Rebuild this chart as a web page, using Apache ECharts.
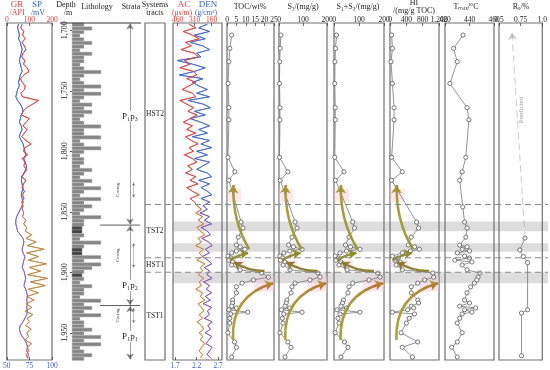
<!DOCTYPE html>
<html><head><meta charset="utf-8">
<script src="https://cdn.jsdelivr.net/npm/echarts@6/dist/echarts.min.js"></script>
<style>html,body{margin:0;padding:0;background:#fff}#c{width:550px;height:370px}</style>
</head><body><div id="c"></div>
<script>
// ---------------- DATA ----------------
const depthTicks = [1700, 1750, 1800, 1850, 1900, 1950];
// well logs sampled every 3 m from 1695 m
const logTop = 1695, logStep = 3;
const grAPI = [68,62,75,70,82,68,78,85,72,66,80,74,90,98,76,60,68,82,78,62,70,140,115,88,72,65,100,85,72,90,78,66,85,108,80,74,92,68,82,75,88,78,64,85,74,68,78,70,76,66,72,68,75,70,85,75,88,82,110,85,130,90,165,88,140,95,175,100,150,92,180,105,170,95,140,88,120,85,110,82,115,90,100,84,108,88,96,82,110,90,98,86,92];
const spMV = [63,62,63,64,63,65,66,67,66,65,64,65,66,67,65,64,63,64,62,61,60,62,65,67,68,66,65,64,66,67,65,64,66,68,69,70,71,69,70,72,71,69,67,66,67,68,67,66,67,68,67,65,63,61,60,60,61,62,65,68,69,68,67,68,70,69,68,67,69,70,71,70,69,71,72,73,72,73,72,73,72,70,68,65,64,65,67,70,72,73,72,74,73];
const acUs = [360,300,410,330,270,390,340,430,310,280,400,350,440,320,290,380,300,360,420,330,300,440,380,320,370,290,350,410,330,380,300,390,340,280,360,320,400,330,290,370,330,390,300,350,280,380,330,270,350,310,290,250,300,240,280,230,290,260,220,280,250,300,230,270,240,290,220,260,240,280,230,270,250,300,240,260,220,280,250,230,270,240,290,250,230,270,240,260,220,250,270,240,260];
const denG = [2.45,2.25,2.5,2.15,2.4,2.05,2.35,2.5,2.2,2.3,1.75,2.1,2.4,2.15,1.8,2.35,2.1,2.25,2.45,2.2,2.5,2.0,2.35,2.52,2.15,2.4,2.05,2.3,2.5,2.25,2.45,2.1,2.5,2.3,2.55,2.2,2.45,2.15,2.5,2.35,2.2,2.45,2.55,2.25,2.5,2.3,2.45,2.55,2.3,2.5,2.35,2.45,2.28,2.5,2.38,2.55,2.3,2.45,2.52,2.32,2.48,2.56,2.4,2.5,2.33,2.46,2.55,2.38,2.5,2.44,2.56,2.36,2.5,2.42,2.55,2.4,2.52,2.35,2.55,2.45,2.5,2.38,2.56,2.46,2.52,2.4,2.55,2.48,2.42,2.56,2.5,2.44,2.54];
// lithology: 3 m beds from 1694 m, class 0..3 = grain size, 4 = tuffaceous dark bed
const bedTop = 1694, bedStep = 3;
const bedClass = [1,2,1,0,1,2,1,0,2,1,1,0,1,3,1,0,1,3,1,3,1,0,2,1,2,1,0,1,3,1,1,3,0,1,3,1,0,1,1,0,2,1,0,2,1,3,1,0,3,1,2,1,0,3,1,1,4,4,1,0,3,1,4,4,3,1,3,2,1,4,1,0,2,1,1,0,3,1,2,1,3,0,1,1,2,1,3,1,3,0,1,2,1];
// geochemistry samples
const sampleDepth = [1704,1715,1726,1744,1764,1774,1805,1817,1824,1858.5,1863.4,1871,1877.5,1879,1881,1882.5,1884,1886.6,1888.2,1890,1891.5,1894,1898,1900.6,1904,1906.4,1909,1912,1917,1923,1925.4,1928,1929.5,1931,1933,1934.5,1938,1942,1950,1957.6,1962,1970];
const toc = [2.5,1.5,1.0,0.6,1.0,1.0,0.5,4.2,1.0,7.5,8.5,6.0,5.0,7.0,9.5,5.0,2.5,0.5,2.0,1.0,3.0,2.5,7.0,18.5,22.0,14.0,8.0,5.0,5.0,3.0,3.0,2.5,5.0,1.0,11.0,2.0,1.5,1.5,0.5,4.0,5.0,2.5];
const s2 = [8,5,3,2,4,4,2,37,5,67,75,54,40,60,96,45,20,4,15,6,25,17,46,162,171,129,67,54,50,33,30,25,45,10,96,20,14,17,4,37,50,25];
const s1s2 = [10,6,4,3,5,5,3,40,6,75,82,60,46,66,104,50,24,5,18,8,28,20,52,175,184,140,75,60,56,38,34,28,50,12,104,24,16,20,5,42,56,28];
const hi = [40,60,25,60,100,100,40,300,40,650,700,520,450,600,720,500,300,60,200,120,250,150,300,1050,1070,850,680,520,520,680,700,520,580,430,60,600,470,400,270,680,300,550];
const tmaxDepth = [1704,1715,1726,1744,1764,1774,1805,1817,1824,1846,1858.5,1863.4,1871,1877.5,1879,1881,1882.5,1884,1886.6,1888.2,1890,1891.5,1894,1898,1900.6,1904,1906.4,1909,1912,1917,1923,1925.4,1928,1929.5,1931,1933,1934.5,1938,1942,1950,1957.6,1962,1970];
const tmax = [434.7,427,430,424,438,439.5,437,434,432,434.5,436,438,437,432,438,434,440,430,436,440,428,442,434,438,448.5,447,446,444,441,438,436,440,432,445,436,442,434,432,430,434,430,425.5,430];
const roDepth = [1871.7,1881.6,1887,1892,1931,1933.7,1969];
const ro = [0.80,0.74,0.78,0.83,0.83,0.76,0.76];
const roPredicted = [[0.80,1871.7],[0.65,1702]];
// interpretation
const tractNames = ['HST2','TST2','HST1','TST1'];
const tractTops = [1694,1844,1888,1900];
const tractBases = [1844,1888,1900,1972.5];
const tractBoundaries = [1844,1888,1900];
const bandTops = [1858,1876,1900];
const bandBases = [1866,1883,1909];
const strataNames = ['P₁p₃','P₁p₂','P₁p₁'];
const strataTops = [1694,1861,1927.5];
const strataBases = [1861,1927.5,1972.5];
const strataLabelDepth = [1771,1911,1953];
const coringTops = [1826,1876,1929.5];
const coringBases = [1838,1896,1942];
// trend arrows: [fromFrac, fromDepth, toFrac, toDepth, curveness]
const trendArrows = [
  [0.13,1956,0.98,1909,0.4],
  [0.80,1899,0.15,1891.5,0.15],
  [0.06,1890,0.45,1884,0.1],
  [0.47,1881,0.14,1828,0.15]
];
// pale highlight boxes [fromFrac, topDepth, toFrac, baseDepth]
const highlights = [[0,1831,0.3,1842],[0,1890,0.38,1896],[0.58,1903,1.0,1916]];

// ---------------- CHART ----------------
const F = '"Liberation Serif","Times New Roman",serif';
const TOP = 23, H = 337, DMIN = 1694, DMAX = 1972.5;
const chart = echarts.init(document.getElementById('c'));
const LG = echarts.graphic.LinearGradient;
const arrowColors = [
  new LG(0, 0, 1, 0, [{offset: 0, color: '#a9a030'}, {offset: 0.6, color: '#b0802c'}, {offset: 1, color: '#c85a28'}]),
  '#8b7a2c', '#8f8a2a',
  new LG(0, 0, 0, 1, [{offset: 0, color: '#d04a2a'}, {offset: 0.18, color: '#a89a30'}, {offset: 1, color: '#9c9430'}])
];
const grids = [], xAxes = [], yAxes = [], series = [];
function addGrid(left, width, border) {
  grids.push({left, top: TOP, width, height: H, show: border, borderColor: '#707070', borderWidth: 1.2});
  const gi = grids.length - 1;
  yAxes.push({gridIndex: gi, type: 'value', min: DMIN, max: DMAX, inverse: true, show: false});
  return gi;
}
function addX(gi, o) {
  const ax = {gridIndex: gi, type: 'value', min: o.min, max: o.max, position: o.pos || 'top', inverse: !!o.inverse,
    show: o.show !== false, splitLine: {show: false}, axisLine: {show: false},
    axisTick: {show: true, inside: true, length: 3, lineStyle: {color: '#444', width: 0.8}},
    axisLabel: {fontSize: 7.5, fontFamily: F, margin: o.pos === 'bottom' ? 2 : -1, color: o.color || '#222', showMinLabel: true, showMaxLabel: true}};
  if (o.interval) ax.interval = o.interval;
  if (o.custom) { ax.axisLabel.customValues = o.custom; ax.axisTick.customValues = o.custom; }
  if (o.fmt) ax.axisLabel.formatter = o.fmt;
  xAxes.push(ax);
  return xAxes.length - 1;
}
function grad(c1, c2) {
  return new LG(0, 0, 0, 1, [{offset: 0, color: c1}, {offset: 0.5, color: c1}, {offset: 0.62, color: c2}, {offset: 1, color: c2}]);
}
const logDepth = grAPI.map((_, i) => logTop + i * logStep);
function logLine(xi, yi, vals, color) {
  series.push({type: 'line', xAxisIndex: xi, yAxisIndex: yi, symbol: 'none', animation: false,
    lineStyle: {width: 0.8, color}, data: vals.map((v, i) => [v, logDepth[i]]), z: 3});
}
// GR / SP
const gGR = addGrid(5, 47, true);
const xGR = addX(gGR, {min: 0, max: 200, interval: 100, color: '#e23b3b'});
const xSP = addX(gGR, {min: 50, max: 100, interval: 25, pos: 'bottom', color: '#3a5fc0'});
logLine(xSP, gGR, spMV, grad('#3b63c8', '#8a52b8'));
logLine(xGR, gGR, grAPI, grad('#e03a3a', '#c08038'));
// Lithology
const gL = addGrid(72, 40, false);
yAxes[gL] = {gridIndex: gL, type: 'value', min: DMIN, max: DMAX, inverse: true, show: true,
  axisLine: {show: false}, splitLine: {show: false},
  axisTick: {show: true, length: 2, customValues: depthTicks, lineStyle: {color: '#444'}},
  axisLabel: {customValues: depthTicks, rotate: 90, fontSize: 8, fontFamily: F, margin: 3, color: '#222'}};
const xL = addX(gL, {min: 0, max: 4, show: false});
const classWidth = [0.8, 1.2, 2.0, 2.9, 1.0];
series.push({type: 'custom', xAxisIndex: xL, yAxisIndex: gL, animation: false,
  data: bedClass.map((c, i) => [bedTop + i * bedStep, bedTop + (i + 1) * bedStep, classWidth[c], c]),
  encode: {x: 2, y: [0, 1]},
  renderItem: function (params, api) {
    const p1 = api.coord([0, api.value(0)]), p2 = api.coord([api.value(2), api.value(1)]);
    const dark = api.value(3) === 4;
    return {type: 'rect', shape: {x: p1[0], y: p1[1], width: p2[0] - p1[0], height: p2[1] - p1[1]},
      style: {fill: dark ? '#454545' : '#858585', stroke: dark ? '#8a8a8a' : '#c8c8c8', lineWidth: 0.5}};
  }});
// Strata column
const gS = addGrid(115, 30, false);
const xS = addX(gS, {min: 0, max: 1, show: false});
series.push({type: 'lines', coordinateSystem: 'cartesian2d', xAxisIndex: xS, yAxisIndex: gS, animation: false,
  symbol: ['arrow', 'arrow'], symbolSize: 6, lineStyle: {color: '#111', width: 0.8, curveness: 0}, z: 5,
  data: strataTops.map((t, i) => ({coords: [[0.5, t + 0.5], [0.5, strataBases[i] - 0.5]]}))});
// coring brackets
series.push({type: 'lines', coordinateSystem: 'cartesian2d', xAxisIndex: xS, yAxisIndex: gS, animation: false,
  symbol: ['arrow', 'arrow'], symbolSize: 3, lineStyle: {color: '#222', width: 0.6, curveness: 0}, z: 5,
  data: coringTops.map((t, i) => ({coords: [[0.62, t], [0.62, coringBases[i]]]}))});
// Systems tracts
const gT = addGrid(145, 20, true);
addX(gT, {min: 0, max: 1, show: false});
// AC / DEN
const gA = addGrid(173, 49, true);
const xAC = addX(gA, {min: 70, max: 500, inverse: true, custom: [160, 310, 460], color: '#e23b3b'});
const xDEN = addX(gA, {min: 1.65, max: 2.79, pos: 'bottom', custom: [1.7, 2.2, 2.7], color: '#3a5fc0', fmt: v => v.toFixed(1)});
logLine(xDEN, gA, denG, grad('#3b63c8', '#8a52b8'));
logLine(xAC, gA, acUs, grad('#e03a3a', '#d0803a'));
// sample panels
function samplePanel(left, width, min, max, interval, depths, vals, fmt) {
  const g = addGrid(left, width, true);
  const x = addX(g, {min, max, interval, fmt});
  series.push({type: 'line', xAxisIndex: x, yAxisIndex: g, animation: false, symbol: 'circle', symbolSize: 4.2,
    itemStyle: {color: '#fff', borderColor: '#555', borderWidth: 0.8}, lineStyle: {color: '#777', width: 0.8},
    data: vals.map((v, i) => [v, depths[i]]), z: 4});
  return {g, x, max};
}
function addArrows(p) {
  highlights.forEach(h => {
    series.push({type: 'custom', xAxisIndex: p.x, yAxisIndex: p.g, animation: false, z: 1, silent: true,
      data: [[h[0] * p.max, h[1], h[2] * p.max, h[3]]],
      renderItem: (params, api) => {
        const a = api.coord([api.value(0), api.value(1)]), b = api.coord([api.value(2), api.value(3)]);
        return {type: 'rect', shape: {x: a[0], y: a[1], width: b[0] - a[0], height: b[1] - a[1]}, style: {fill: 'rgba(248,200,220,0.45)'}};
      }});
  });
  trendArrows.forEach((a, k) => {
    series.push({type: 'lines', coordinateSystem: 'cartesian2d', xAxisIndex: p.x, yAxisIndex: p.g, animation: false,
      symbol: ['none', 'arrow'], symbolSize: 8, z: 6,
      lineStyle: {color: arrowColors[k], width: 2.6, curveness: a[4], opacity: 0.95},
      data: [{coords: [[a[0] * p.max, a[1]], [a[2] * p.max, a[3]]]}]});
  });
}
const pTOC = samplePanel(227, 47, 0, 25, 5, sampleDepth, toc);
const pS2 = samplePanel(279, 48, 0, 200, 100, sampleDepth, s2);
const pS12 = samplePanel(334, 50, 0, 200, 100, sampleDepth, s1s2);
const pHI = samplePanel(390, 49, 0, 1200, 400, sampleDepth, hi);
[pTOC, pS2, pS12, pHI].forEach(addArrows);
const pT = samplePanel(445, 49, 420, 460, 20, tmaxDepth, tmax);
const pR = samplePanel(499, 47, 0.5, 1.0, 0.25, roDepth, ro, v => v === 1 ? '1.0' : String(v));
series.push({type: 'lines', coordinateSystem: 'cartesian2d', xAxisIndex: pR.x, yAxisIndex: pR.g, animation: false,
  symbol: ['none', 'arrow'], symbolSize: 7, z: 5,
  lineStyle: {color: '#999', width: 1, type: [7, 4]}, data: [{coords: roPredicted}]});

chart.setOption({animation: false, grid: grids, xAxis: xAxes, yAxis: yAxes, series});

// --------------- annotations ---------------
const Y = d => chart.convertToPixel({yAxisIndex: 0}, d);
const G = [];
function txt(x, y, s, color, size) {
  G.push({type: 'text', x, y, z: 100, style: {text: s, fill: color || '#222', font: (size || 8) + 'px ' + F, textAlign: 'center', textVerticalAlign: 'middle'}});
}
txt(17, 5, 'GR', '#e23b3b', 9); txt(37, 5, 'SP', '#3a5fc0', 9);
txt(17, 13, '/API', '#e23b3b', 8); txt(38, 13, '/mV', '#3a5fc0', 8);
txt(66, 5, 'Depth', '#222', 8); txt(68, 13, '/m', '#222', 8);
txt(97, 7, 'Lithology', '#222', 8); txt(131, 7, 'Strata', '#222', 8);
txt(155, 5, 'Systems', '#222', 8); txt(155, 13, 'tracts', '#222', 8);
txt(184, 5, 'AC', '#e23b3b', 9); txt(208, 5, 'DEN', '#3a5fc0', 9);
txt(182, 13, '(μs/m)', '#e23b3b', 7.5); txt(206, 13, '(g/cm³)', '#3a5fc0', 7.5);
txt(250, 7, 'TOC/wt%'); txt(303, 7, 'S₂/(mg/g)'); txt(358, 7, 'S₁+S₂/(mg/g)');
txt(414, 3, 'HI'); txt(414, 11, '/(mg/g TOC)');
txt(466, 7, 'Tₘₐₓ/°C'); txt(521, 7, 'Rₒ/%');
G.push({type: 'line', z: 50, shape: {x1: 60, y1: TOP, x2: 141, y2: TOP}, style: {stroke: '#333', lineWidth: 1}});
bandTops.forEach((t, i) => G.push({type: 'rect', z: -1, shape: {x: 173, y: Y(t), width: 375, height: Y(bandBases[i]) - Y(t)}, style: {fill: 'rgba(175,175,175,0.42)'}}));
tractBoundaries.forEach(d => G.push({type: 'line', z: 50, shape: {x1: 145, y1: Y(d), x2: 548, y2: Y(d)}, style: {stroke: '#8a8a8a', lineWidth: 1.1, lineDash: [6, 4]}}));
tractNames.forEach((n, i) => txt(155, (Y(tractTops[i]) + Y(tractBases[i])) / 2, n, '#222', 7.5));
[strataTops[1], strataTops[2]].forEach(d => G.push({type: 'line', z: 50, shape: {x1: 100, y1: Y(d), x2: 140, y2: Y(d)}, style: {stroke: '#333', lineWidth: 0.8}}));
strataNames.forEach((n, i) => G.push({type: 'text', x: 130, y: Y(strataLabelDepth[i]), z: 100, style: {text: n, fill: '#222', font: '9px ' + F, textAlign: 'center', textVerticalAlign: 'middle', backgroundColor: '#fff', padding: [1, 0]}}));
coringTops.forEach((t, i) => {
  const y1 = Y(t), y2 = Y(coringBases[i]);
  G.push({type: 'text', z: 60, x: 118, y: (y1 + y2) / 2, rotation: Math.PI / 2, style: {text: 'Coring', fill: '#333', font: '5px ' + F, textAlign: 'center', textVerticalAlign: 'middle'}});
});
G.push({type: 'text', z: 60, x: 521, y: 110, rotation: Math.PI / 2, style: {text: 'Predicted', fill: '#999', font: '7px ' + F, textAlign: 'center', textVerticalAlign: 'middle'}});
chart.setOption({graphic: G});
</script></body></html>
